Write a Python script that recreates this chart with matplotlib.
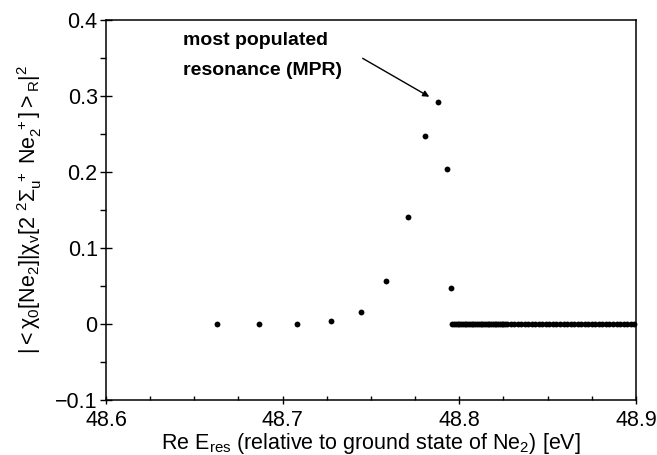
import matplotlib
matplotlib.use('Agg')
import matplotlib.pyplot as plt
from matplotlib.ticker import MultipleLocator

plt.rcParams['font.family'] = ['Liberation Sans', 'DejaVu Sans']
plt.rcParams['mathtext.fontset'] = 'custom'
plt.rcParams['mathtext.rm'] = 'Liberation Sans'
plt.rcParams['mathtext.it'] = 'Liberation Sans'
plt.rcParams['mathtext.bf'] = 'Liberation Sans:bold'

# resonances below the MPR region
energies = [48.6627, 48.6866, 48.7081, 48.7275, 48.7443, 48.7586,
            48.7707, 48.7804, 48.7879, 48.7928, 48.7952]
overlaps = [0.0, 0.0, 0.0, 0.0034, 0.016, 0.056,
            0.1405, 0.2465, 0.292, 0.2035, 0.0468]

# dense set of (near) zero overlaps above 48.796 eV
zero_energies = [48.796, 48.797, 48.798, 48.799, 48.800, 48.801, 48.802, 48.803,
                 48.804, 48.805, 48.806, 48.807, 48.808, 48.809, 48.810, 48.811,
                 48.812, 48.813, 48.814, 48.815, 48.816, 48.817, 48.818, 48.819,
                 48.820, 48.821, 48.822, 48.823, 48.824, 48.825, 48.826, 48.827,
                 48.829, 48.831, 48.833, 48.835, 48.837, 48.839, 48.841, 48.843,
                 48.845, 48.847, 48.849, 48.851, 48.853, 48.855, 48.857, 48.859,
                 48.861, 48.863, 48.865, 48.867, 48.869, 48.871, 48.873, 48.875,
                 48.877, 48.879, 48.881, 48.883, 48.885, 48.887, 48.889, 48.891,
                 48.893, 48.895, 48.897, 48.899]
zero_overlaps = [0.0] * len(zero_energies)

fig = plt.figure(figsize=(6.57, 4.55), dpi=100)
ax = fig.add_axes([0.1613, 0.1209, 0.8067, 0.8362])

ax.plot(energies, overlaps, 'o', color='black', ms=4.2, mew=0, clip_on=False)
ax.plot(zero_energies, zero_overlaps, 'o', color='black', ms=4.2, mew=0, clip_on=False)

ax.set_xlim(48.6, 48.9)
ax.set_ylim(-0.1, 0.4)
ax.xaxis.set_minor_locator(MultipleLocator(0.025))
ax.yaxis.set_minor_locator(MultipleLocator(0.05))
ax.set_xticks([48.6, 48.7, 48.8, 48.9])
ax.set_xticklabels(['48.6', '48.7', '48.8', '48.9'])
ax.set_yticks([-0.1, 0, 0.1, 0.2, 0.3, 0.4])
ax.set_yticklabels(['\u22120.1', '0', '0.1', '0.2', '0.3', '0.4'])

ax.tick_params(axis='x', which='major', direction='inout', length=6, width=1, labelsize=15.5, pad=4)
ax.tick_params(axis='x', which='minor', direction='in', length=3, width=1)
ax.tick_params(axis='y', which='major', direction='inout', length=8, width=1, labelsize=15.5, pad=2)
ax.tick_params(axis='y', which='minor', direction='out', length=4, width=1)
for s in ax.spines.values():
    s.set_linewidth(1.1)

ax.set_xlabel(r'Re E$_\mathrm{res}$ (relative to ground state of Ne$_2$) [eV]', fontsize=15.5, labelpad=0)
ax.set_ylabel(r'$|{<}\chi_0[\mathrm{Ne}_2]|\chi_v[2\ ^2\Sigma_u^{\ +}\ \mathrm{Ne}_2^{\ +}]{>}_R|^2$',
              fontsize=15.5, labelpad=8)

ax.text(48.6434, 0.384, 'most populated\nresonance (MPR)', fontsize=14, fontweight='bold',
        ha='left', va='top', linespacing=2.0)
ax.annotate('', xy=(48.783, 0.2985), xytext=(48.7453, 0.349),
            arrowprops=dict(arrowstyle='-|>', color='black', lw=1, mutation_scale=9,
                            shrinkA=0, shrinkB=0))

fig.savefig('out.png', dpi=100)
